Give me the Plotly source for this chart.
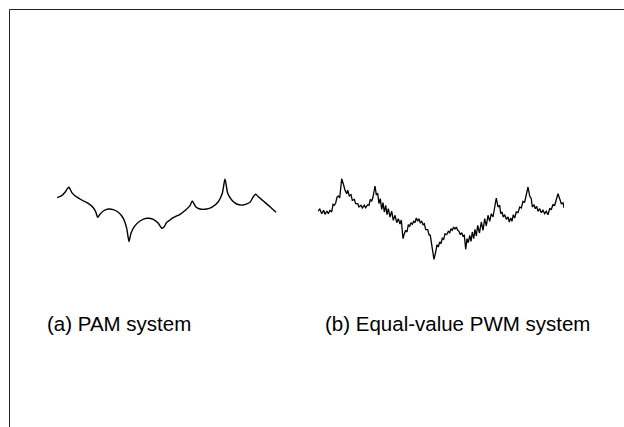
import plotly.graph_objects as go

# (a) PAM system: rectified output ripple, time (arb. units) vs amplitude (arb. units)
pam_t = [0, 4.7, 8, 10.7, 12, 14.7, 18, 24.7, 31.3, 36.3, 38.7, 40.7, 43, 46.3, 51.3,
         56.3, 61.3, 66.3, 69.7, 72, 74, 77.3, 83, 89.7, 96.3, 101.3, 104.7, 107.3,
         109.7, 113, 116.3, 123, 128.7, 133, 135.3, 138.7, 143, 148, 154.7, 161.3,
         165.3, 168, 170.7, 174.7, 179.7, 186.3, 193, 196.3, 198.7, 201.3, 206.3, 213, 219]
pam_v = [12.3, 14.3, 17.7, 21.7, 22.7, 17.7, 14.3, 10, 6.7, 2.3, -1.7, -7.3, -4.3, -1, 1,
         0.3, -2.3, -8.3, -18.3, -31.7, -23.3, -16.7, -11, -8.3, -9.3, -13.3, -18.3, -16.7,
         -12.3, -10, -7.7, -4.3, 0, 4.3, 9, 3.3, 1, 0.7, 2.7, 8.3,
         16.7, 31, 16.7, 10, 6, 5, 7.7, 13.3, 15.7, 13.3, 9, 3.3, -2.3]

# (b) Equal-value PWM system: output ripple with switching harmonics
pwm_t = [0.3, 1.7, 3.7, 5.7, 7, 9, 10.3, 12, 13.7, 15, 16.3, 17.7, 19, 20.3, 21.7, 23.7,
         25.7, 27, 28.7, 29.7, 31.3, 33, 34.3, 36.3, 37.7, 39.7, 41, 43, 44.3, 46.3, 47.7,
         49.7, 51, 52.3, 53.7, 55, 57, 58.3, 59.7, 61, 62.3, 63.7, 65, 66.3, 67.7, 69,
         70.3, 72, 73.7, 75.3, 77, 78.7, 80.3, 82, 83.3, 85, 86.3, 87.7, 89, 90.3, 91.7,
         93, 94.3, 95.7, 97, 98.3, 99.7, 101, 102.3, 103.7, 105, 106.3, 107.7, 109.7, 111,
         112.3, 114.3, 116, 117.7, 119, 120.3, 121.7, 123, 124.3, 125.7, 127, 128.7, 130.3,
         131.7, 133, 134.3, 135.7, 137, 138.3, 139.7, 141, 142.3, 143.7, 145, 146.3, 147.7,
         149, 150.3, 151.7, 153, 154.3, 155.7, 157, 158.3, 159.7, 161.5, 163.3, 165, 166.7,
         168.3, 170, 171.7, 173.3, 175, 176.7, 178.3, 180, 181.7, 182.7, 184, 185.3, 186.7,
         188.3, 190, 191.3, 192.7, 194, 195.3, 196.7, 198.3, 200, 201.7, 203.3, 205, 206.7,
         208.3, 210, 211.7, 213.3, 214.3, 216, 217.3, 218.7, 220, 221.7, 223.3, 225, 226.7,
         228.3, 230, 231.7, 233.3, 235, 236.7, 238.3, 240, 241.7, 243.3, 245, 246]
pwm_v = [-1.3, 1.3, -3.7, -0.3, -4.3, -1, -3.7, -0.3, -2, 5.7, 4.7, 7, 13, 14, 12, 31.3,
         24.7, 19.7, 16.3, 19.7, 14, 15.3, 9.7, 10.7, 6.3, 6.3, 3, 4.7, 2, 4.7, 2.3,
         5.3, 4.7, 10.7, 8.7, 13, 24, 15.3, 16.3, 6.3, 11.3, 0.7, 7.3, -2, 4.7, -4.7,
         1.3, -7, -1.3, -10.3, -5.3, -12.7, -8.7, -14, -10, -28.7, -23.7, -20.3, -22, -14.7, -16.3,
         -12.7, -14.3, -11.3, -12.7, -8, -11.3, -8.7, -12.7, -11.3, -14.7, -13.7, -19.7, -19.7, -24.7,
         -25.3, -38.7, -49.3, -42, -34.7, -37, -32, -33.7, -28, -29.3, -23.7, -24.7, -21.3,
         -22.7, -18.7, -20.3, -17, -19.3, -17, -20.3, -21.3, -24.7, -22.7, -26, -25.3, -39.3,
         -28.7, -32.7, -25.3, -31.3, -22, -28.7, -19.3, -26, -15.3, -23, -12, -20.3, -8.7,
         -16, -5.3, -11.3, -3.7, -7, 1.3, 12, 3, 4.7, -3.7, -2, -7, -4.7,
         -9.3, -7, -12, -8, -11.3, -4.7, -8, -2, -2.7, 3, 2, 8.7, 8,
         14, 23, 14, 11.3, 3, 5.3, 1.3, 3.7, -1.3, 1.3, -2.7, -0.3, -3.7,
         -1.3, -4.7, 1.3, 0.7, 5.3, 4.7, 9.7, 16.3, 11.3, 6.3, 7.3, 2]

labels = ["(a) PAM system", "(b) Equal-value PWM system"]

W, H = 624, 427

fig = go.Figure()
fig.add_trace(go.Scatter(x=pam_t, y=pam_v, mode="lines", xaxis="x", yaxis="y",
                         line=dict(color="#000000", width=1.4, shape="spline", smoothing=0.6),
                         hoverinfo="skip", showlegend=False))
fig.add_trace(go.Scatter(x=pwm_t, y=pwm_v, mode="lines", xaxis="x2", yaxis="y",
                         line=dict(color="#000000", width=1.3),
                         hoverinfo="skip", showlegend=False))

hidden = dict(visible=False, showgrid=False, zeroline=False, fixedrange=True)
fig.update_layout(
    width=W, height=H,
    margin=dict(l=0, r=0, t=0, b=0),
    paper_bgcolor="white", plot_bgcolor="white",
    xaxis=dict(domain=[57 / W, 277 / W], range=[0, 220], **hidden),
    xaxis2=dict(domain=[318 / W, 564 / W], range=[0, 246], anchor="y", **hidden),
    yaxis=dict(domain=[0, 1], range=[-217, 210], **hidden),
    font=dict(family="Liberation Sans, Arial, sans-serif", color="#000000"),
)

# open frame along the top and left edges
fig.add_shape(type="line", xref="paper", yref="paper",
              x0=9.5 / W, x1=1.0, y0=1 - 9.5 / H, y1=1 - 9.5 / H,
              line=dict(color="#222222", width=1))
fig.add_shape(type="line", xref="paper", yref="paper",
              x0=9.5 / W, x1=9.5 / W, y0=0, y1=1 - 9.5 / H,
              line=dict(color="#222222", width=1))

for xpos, txt in zip([45 / W, 323 / W], labels):
    fig.add_annotation(x=xpos, y=1 - 323 / H, xref="paper", yref="paper",
                       text=txt, showarrow=False, xanchor="left", yanchor="middle",
                       font=dict(size=20.5, color="#000000"))

fig.write_html("out.html")
